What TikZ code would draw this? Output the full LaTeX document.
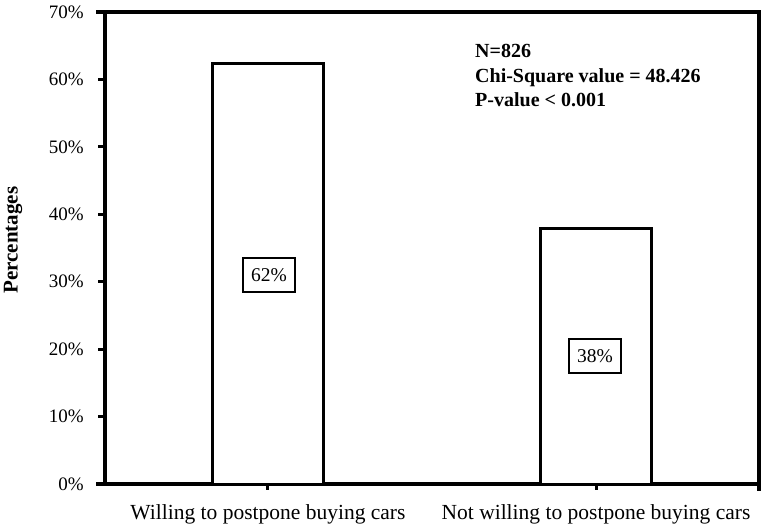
\documentclass[tikz,border=0pt]{standalone}
\usepackage{fontspec}
\setmainfont{Liberation Serif}
\begin{document}
\begin{tikzpicture}[x=1pt,y=-1pt,
  axis/.style={line width=3.4pt,line cap=rect},
  bar/.style={draw,line width=3pt,fill=white,minimum width=111pt,anchor=south,inner sep=0pt},
  vlabel/.style={draw,line width=2.4pt,fill=white,inner sep=3pt,minimum width=52pt,minimum height=34pt,font=\fontsize{19.5}{21}\selectfont},
  tick/.style={line width=3pt},
  ticklab/.style={anchor=east,font=\fontsize{19}{21}\selectfont,inner sep=0pt},
  catlab/.style={anchor=north,font=\fontsize{21.5}{24}\selectfont,inner sep=0pt}]
\useasboundingbox (0,0) rectangle (768,528);
% frame
\coordinate (o) at (105,484);
\coordinate (tl) at (105,12);
\coordinate (tr) at (759,12);
\coordinate (br) at (759,484);
\draw[axis] (98,12) -- (tr) -- (759,489);
\draw[axis] (tl) -- (o) -- (br);
\draw[axis] (98,484) -- (o);
% y ticks and labels
\foreach \v/\y in {0/484,10/416.6,20/349.1,30/281.7,40/214.3,50/146.9,60/79.4,70/12}{
  \draw[tick] (98,\y) -- (105,\y);
  \node[ticklab] (y\v) at (84,\y) {\v\%};
}
% category ticks
\draw[tick] (267,484) -- (267,490);
\draw[tick] (596,484) -- (596,490);
% bars
\node[bar,minimum height=421pt] (b1) at (268,485.5) {};
\node[bar,minimum height=256pt] (b2) at (596,485.5) {};
% value labels
\node[vlabel] (l1) at (269,275) {62\%};
\node[vlabel] (l2) at (595,356) {38\%};
% category labels
\node[catlab] (c1) at (268,504) {Willing to postpone buying cars};
\node[catlab] (c2) at (596,504) {Not willing to postpone buying cars};
% axis title
\node[rotate=90,font=\bfseries\fontsize{21}{23}\selectfont,inner sep=0pt] (yt) at (13,240) {Percentages};
% stats
\node[anchor=north west,align=left,font=\bfseries\fontsize{20}{24.5}\selectfont,inner sep=0pt] (st) at (475,44) {N=826\\Chi-Square value = 48.426\\P-value < 0.001};
\end{tikzpicture}
\end{document}
